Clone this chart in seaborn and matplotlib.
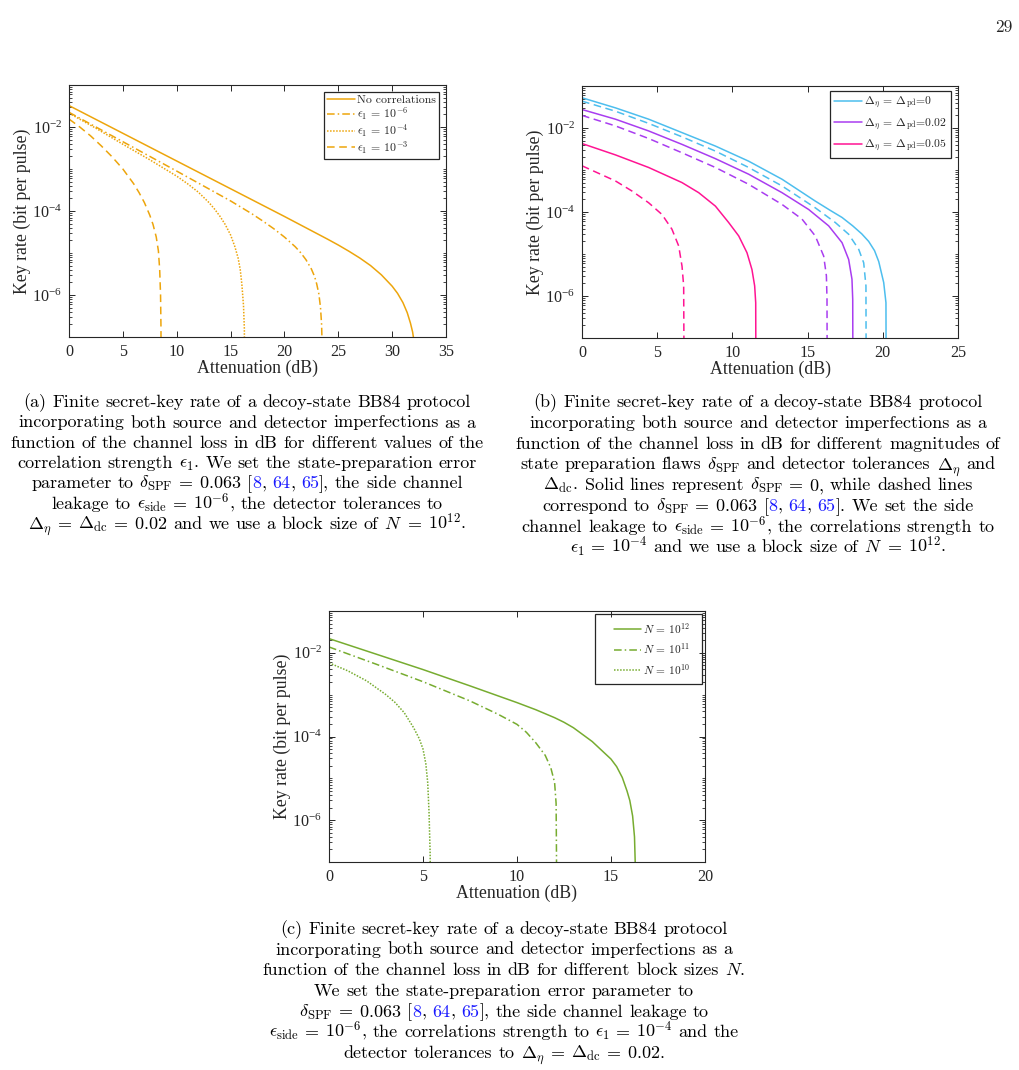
import numpy as np
import pandas as pd
import seaborn as sns
from matplotlib import pyplot as plt
from matplotlib.patches import Rectangle
from matplotlib.ticker import FixedLocator, LogLocator, NullFormatter

# ---- panel (a): attenuation (dB) and log10 key rate
a_labels = ["No correlations", r"$\epsilon_1$ = 10$^{-6}$", r"$\epsilon_1$ = 10$^{-4}$", r"$\epsilon_1$ = 10$^{-3}$"]
a_nocorr_x = [0, 5, 10, 15, 20, 22, 24, 25, 26, 27, 28, 29, 30, 30.5, 31, 31.4, 31.7, 31.9, 32.0, 32.05]
a_nocorr_k = [-1.49, -2.15, -2.81, -3.47, -4.13, -4.40, -4.67, -4.81, -4.96, -5.12, -5.30, -5.52, -5.79,
              -5.96, -6.18, -6.42, -6.67, -6.88, -7.05, -9]
a_e6_x = [0, 5, 10, 15, 17, 18, 19, 20, 21, 21.5, 22, 22.5, 22.8, 23.0, 23.2, 23.35, 23.45, 23.5, 23.52]
a_e6_k = [-1.65, -2.35, -3.05, -3.76, -4.07, -4.24, -4.42, -4.62, -4.85, -4.99, -5.16, -5.38, -5.56,
          -5.74, -5.98, -6.3, -6.7, -7.2, -9]
a_e4_x = [0, 2.5, 5, 7.5, 10, 11, 12, 13, 13.5, 14, 14.5, 15, 15.4, 15.7, 15.9, 16.05, 16.2, 16.28, 16.32]
a_e4_k = [-1.67, -2.03, -2.41, -2.78, -3.17, -3.35, -3.55, -3.8, -3.95, -4.12, -4.32, -4.57, -4.85,
          -5.12, -5.4, -5.75, -6.25, -6.8, -9]
a_e3_x = [0, 1, 2, 3, 4, 5, 6, 6.5, 7, 7.5, 7.8, 8.1, 8.3, 8.42, 8.5, 8.54, 8.56]
a_e3_k = [-1.81, -2.0, -2.21, -2.45, -2.71, -3.0, -3.35, -3.56, -3.8, -4.1, -4.32, -4.62, -4.95,
          -5.4, -6.0, -6.8, -9]

# ---- panel (b): solid = delta_SPF 0, dashed = delta_SPF 0.063
b_labels = [r"$\Delta_\eta$ = $\Delta_{\mathrm{pd}}$=0", r"$\Delta_\eta$ = $\Delta_{\mathrm{pd}}$=0.02",
            r"$\Delta_\eta$ = $\Delta_{\mathrm{pd}}$=0.05"]
b_c_solid_x = [0, 2.22, 4.43, 6.65, 8.87, 11.08, 13.30, 15.51, 16.5, 17.29, 18.0, 18.6, 19.06, 19.45,
               19.73, 20.06, 20.21, 20.23]
b_c_solid_k = [-1.28, -1.52, -1.79, -2.11, -2.43, -2.79, -3.22, -3.74, -3.96, -4.13, -4.33, -4.52, -4.70,
               -4.92, -5.18, -5.68, -6.16, -9]
b_c_dash_x = [0, 2.22, 4.43, 6.65, 8.87, 11.08, 13.30, 15.51, 16.84, 17.73, 18.40, 18.73, 18.88, 18.9]
b_c_dash_k = [-1.36, -1.60, -1.89, -2.21, -2.55, -2.94, -3.38, -3.90, -4.25, -4.53, -4.89, -5.21, -5.76, -9]
b_p_solid_x = [0, 2.22, 4.43, 6.65, 8.87, 11.08, 13.30, 15.07, 16.40, 17.29, 17.73, 17.95, 18.0, 18.02]
b_p_solid_k = [-1.56, -1.79, -2.07, -2.39, -2.73, -3.10, -3.54, -3.94, -4.33, -4.73, -5.13, -5.60,
               -6.08, -9]
b_p_dash_x = [0, 2.22, 4.43, 6.65, 8.87, 11.08, 13.30, 14.63, 15.51, 16.07, 16.25, 16.29, 16.31]
b_p_dash_k = [-1.70, -1.95, -2.25, -2.59, -2.94, -3.34, -3.82, -4.17, -4.57, -5.05, -5.52, -6.08, -9]
b_m_solid_x = [0, 2.22, 4.43, 6.65, 7.76, 8.87, 9.75, 10.42, 10.97, 11.30, 11.48, 11.55, 11.57]
b_m_solid_k = [-2.37, -2.64, -2.94, -3.30, -3.54, -3.86, -4.25, -4.57, -4.97, -5.37, -5.76, -6.16, -9]
b_m_dash_x = [0, 1.11, 2.22, 3.32, 4.43, 5.32, 5.98, 6.43, 6.65, 6.76, 6.80]
b_m_dash_k = [-2.90, -3.08, -3.26, -3.50, -3.78, -4.06, -4.41, -4.81, -5.29, -5.76, -9]

# ---- panel (c): block sizes
c_labels = [r"$N$ = 10$^{12}$", r"$N$ = 10$^{11}$", r"$N$ = 10$^{10}$"]
c_n12_x = [0, 2.5, 5, 7.5, 10, 11, 12, 12.5, 13, 14, 15, 15.3, 15.6, 15.85, 16.0, 16.15, 16.25, 16.3, 16.32]
c_n12_k = [-1.66, -2.03, -2.40, -2.79, -3.19, -3.36, -3.55, -3.66, -3.79, -4.12, -4.54, -4.72, -4.98,
           -5.3, -5.53, -5.9, -6.4, -7.2, -9]
c_n11_x = [0, 2.5, 5, 7.5, 9, 10, 10.5, 11, 11.5, 11.8, 12.0, 12.08, 12.1, 12.12]
c_n11_k = [-1.86, -2.27, -2.69, -3.15, -3.47, -3.71, -3.90, -4.15, -4.45, -4.75, -5.1, -5.6, -6.8, -9]
c_n10_x = [0, 1, 2, 3, 3.5, 4, 4.5, 4.8, 5.0, 5.15, 5.25, 5.32, 5.38, 5.42]
c_n10_k = [-2.24, -2.43, -2.67, -2.99, -3.18, -3.43, -3.79, -4.05, -4.3, -4.65, -5.1, -5.8, -6.8, -9]

ORANGE = "#EDA50C"
CYAN, PURPLE, PINK = "#4DBEEE", "#A93DF0", "#FF1493"
GREEN = "#77AC30"
DASH = (0, (5, 3))
DOT = (0, (1, 1))
DASHDOT = (0, (5, 2, 1, 2))
AXC = "#262626"

sns.set_style("ticks")
plt.rcParams["font.family"] = "serif"
plt.rcParams["font.serif"] = ["Liberation Serif", "DejaVu Serif"]
plt.rcParams["mathtext.fontset"] = "cm"

W, H = 1019, 1070
fig = plt.figure(figsize=(W / 100, H / 100), dpi=100)


def px_axes(left, top, right, bottom):
    return fig.add_axes([left / W, 1 - bottom / H, (right - left) / W, (bottom - top) / H])


def add_line(ax, xs, ks, color, ls, label=None):
    df = pd.DataFrame({"att": xs, "rate": [10.0 ** k for k in ks]})
    sns.lineplot(data=df, x="att", y="rate", ax=ax, color=color, linestyle=ls,
                 linewidth=1.1, estimator=None, sort=False, label=label)


def style_axes(ax, xmax, xstep):
    ax.set_yscale("log")
    ax.set_xlim(0, xmax)
    ax.set_ylim(1e-7, 1e-1)
    ticks = np.arange(0, xmax + 0.1, xstep)
    ax.set_xticks(ticks)
    ax.set_xticklabels([f"{int(v)}" for v in ticks])
    ax.yaxis.set_major_locator(FixedLocator([1e-6, 1e-4, 1e-2]))
    ax.set_yticklabels([r"$\mathregular{10^{-6}}$", r"$\mathregular{10^{-4}}$", r"$\mathregular{10^{-2}}$"])
    ax.yaxis.set_minor_locator(LogLocator(base=10, subs=np.arange(1, 10), numticks=50))
    ax.yaxis.set_minor_formatter(NullFormatter())
    ax.tick_params(which="both", direction="in", top=True, right=True, labelsize=11.6,
                   color=AXC, labelcolor=AXC, pad=5)
    ax.tick_params(which="major", length=4, width=0.7)
    ax.tick_params(which="minor", length=2, width=0.6)
    for s in ax.spines.values():
        s.set_visible(True)
        s.set_linewidth(0.8)
        s.set_color(AXC)
    ax.set_xlabel("Attenuation (dB)", fontsize=12.8, color=AXC, labelpad=0)
    ax.set_ylabel("Key rate (bit per pulse)", fontsize=12.8, color=AXC, labelpad=1)
    ax.grid(False)


def legend(ax, anchor, size, spacing, frame=True, pad=0.35):
    lg = ax.legend(loc="upper right", bbox_to_anchor=anchor, borderaxespad=0, frameon=frame,
                   fancybox=False, framealpha=1, edgecolor=AXC,
                   prop={"family": "cmr10", "size": size}, handlelength=2.4, handletextpad=0.15,
                   labelspacing=spacing, borderpad=pad)
    lg.get_frame().set_linewidth(0.9)
    return lg


# panel (a)
ax_a = px_axes(69, 85, 446, 337)
add_line(ax_a, a_nocorr_x, a_nocorr_k, ORANGE, "-", a_labels[0])
add_line(ax_a, a_e6_x, a_e6_k, ORANGE, DASHDOT, a_labels[1])
add_line(ax_a, a_e4_x, a_e4_k, ORANGE, DOT, a_labels[2])
add_line(ax_a, a_e3_x, a_e3_k, ORANGE, DASH, a_labels[3])
style_axes(ax_a, 35, 5)
legend(ax_a, (1 - 7 / 377, 1 - 7 / 252), 8.5, 0.0, pad=0.25)

# panel (b)
ax_b = px_axes(582, 86, 958, 338)
add_line(ax_b, b_c_solid_x, b_c_solid_k, CYAN, "-", b_labels[0])
add_line(ax_b, b_c_dash_x, b_c_dash_k, CYAN, DASH)
add_line(ax_b, b_p_solid_x, b_p_solid_k, PURPLE, "-", b_labels[1])
add_line(ax_b, b_p_dash_x, b_p_dash_k, PURPLE, DASH)
add_line(ax_b, b_m_solid_x, b_m_solid_k, PINK, "-", b_labels[2])
add_line(ax_b, b_m_dash_x, b_m_dash_k, PINK, DASH)
style_axes(ax_b, 25, 5)
legend(ax_b, (1 - 7 / 376, 1 - 5 / 252), 8.4, 0.45)

# panel (c): legend box wider than its content, as in the original
ax_c = px_axes(329, 611, 705, 862)
add_line(ax_c, c_n12_x, c_n12_k, GREEN, "-", c_labels[0])
add_line(ax_c, c_n11_x, c_n11_k, GREEN, DASHDOT, c_labels[1])
add_line(ax_c, c_n10_x, c_n10_k, GREEN, DOT, c_labels[2])
style_axes(ax_c, 20, 5)
legend(ax_c, (1 - 11 / 376, 1 - 6 / 251), 8.2, 0.5, frame=False)
fig.patches.append(Rectangle((595 / W, 1 - 684 / H), 107 / W, 70 / H, transform=fig.transFigure,
                             fill=False, edgecolor=AXC, linewidth=0.9, zorder=5))

# ---- captions (cm font, citations in blue), laid out word by word
CAP = 13.0
BLUE = "#1A1AFF"
renderer = fig.canvas.get_renderer()


def text_width(s):
    t = fig.text(0, 0, s, fontsize=CAP, family="cmr10")
    w = t.get_window_extent(renderer).width
    t.remove()
    return w


SP = text_width("x x") - text_width("xx")


def words(s):
    # "=" inside math becomes a plain cmr10 token; then split on spaces outside $...$
    s = s.replace(" = ", "$ = $")
    out, cur, in_math = [], "", False
    for ch in s:
        if ch == "$":
            in_math = not in_math
        if ch == " " and not in_math:
            out.append(cur)
            cur = ""
        else:
            cur += ch
    out.append(cur)
    return out


def caption_line(segs, xc, yc):
    pieces = []
    for s, c in segs:
        if s == " ":
            pieces.append((None, SP))
            continue
        for j, wd in enumerate(words(s)):
            if j > 0:
                pieces.append((None, SP))
            if wd == "" or wd == "$$":
                continue
            t = fig.text(0, 1 - (yc + 4.5) / H, wd, fontsize=CAP, family="cmr10", color=c,
                         ha="left", va="baseline")
            pieces.append((t, t.get_window_extent(renderer).width))
    total = sum(w for _, w in pieces)
    x = xc - total / 2
    for t, w in pieces:
        if t is not None:
            t.set_x(x / W)
        x += w


def with_cite(before, after):
    return [(before, "k"), (" ", None), ("[", "k"), ("8", BLUE), (",", "k"), (" ", None),
            ("64", BLUE), (",", "k"), (" ", None), ("65", BLUE), ("]" + after, "k")]


cap_a = [
    [("(a) Finite secret-key rate of a decoy-state BB84 protocol", "k")],
    [("incorporating both source and detector imperfections as a", "k")],
    [("function of the channel loss in dB for different values of the", "k")],
    [(r"correlation strength $\epsilon_1$. We set the state-preparation error", "k")],
    with_cite(r"parameter to $\delta_{\mathrm{SPF}} = 0.063$", ", the side channel"),
    [(r"leakage to $\epsilon_{\mathrm{side}} = 10^{-6}$, the detector tolerances to", "k")],
    [(r"$\Delta_\eta = \Delta_{\mathrm{dc}} = 0.02$ and we use a block size of $N = 10^{12}$.", "k")],
]
cap_b = [
    [("(b) Finite secret-key rate of a decoy-state BB84 protocol", "k")],
    [("incorporating both source and detector imperfections as a", "k")],
    [("function of the channel loss in dB for different magnitudes of", "k")],
    [(r"state preparation flaws $\delta_{\mathrm{SPF}}$ and detector tolerances $\Delta_\eta$ and", "k")],
    [(r"$\Delta_{\mathrm{dc}}$. Solid lines represent $\delta_{\mathrm{SPF}} = 0$, while dashed lines", "k")],
    with_cite(r"correspond to $\delta_{\mathrm{SPF}} = 0.063$", ". We set the side"),
    [(r"channel leakage to $\epsilon_{\mathrm{side}} = 10^{-6}$, the correlations strength to", "k")],
    [(r"$\epsilon_1 = 10^{-4}$ and we use a block size of $N = 10^{12}$.", "k")],
]
cap_c = [
    [("(c) Finite secret-key rate of a decoy-state BB84 protocol", "k")],
    [("incorporating both source and detector imperfections as a", "k")],
    [(r"function of the channel loss in dB for different block sizes $N$.", "k")],
    [("We set the state-preparation error parameter to", "k")],
    with_cite(r"$\delta_{\mathrm{SPF}} = 0.063$", ", the side channel leakage to"),
    [(r"$\epsilon_{\mathrm{side}} = 10^{-6}$, the correlations strength to $\epsilon_1 = 10^{-4}$ and the", "k")],
    [(r"detector tolerances to $\Delta_\eta = \Delta_{\mathrm{dc}} = 0.02$.", "k")],
]

for i, segs in enumerate(cap_a):
    caption_line(segs, 247, 402.7 + 20.3 * i)
for i, segs in enumerate(cap_b):
    caption_line(segs, 758, 402.7 + 20.75 * i)
for i, segs in enumerate(cap_c):
    caption_line(segs, 504, 929.3 + 20.7 * i)

fig.text(1013 / W, 1 - 32 / H, "29", fontsize=12.5, family="cmr10", ha="right", va="baseline")

fig.savefig("out.png", dpi=100)
